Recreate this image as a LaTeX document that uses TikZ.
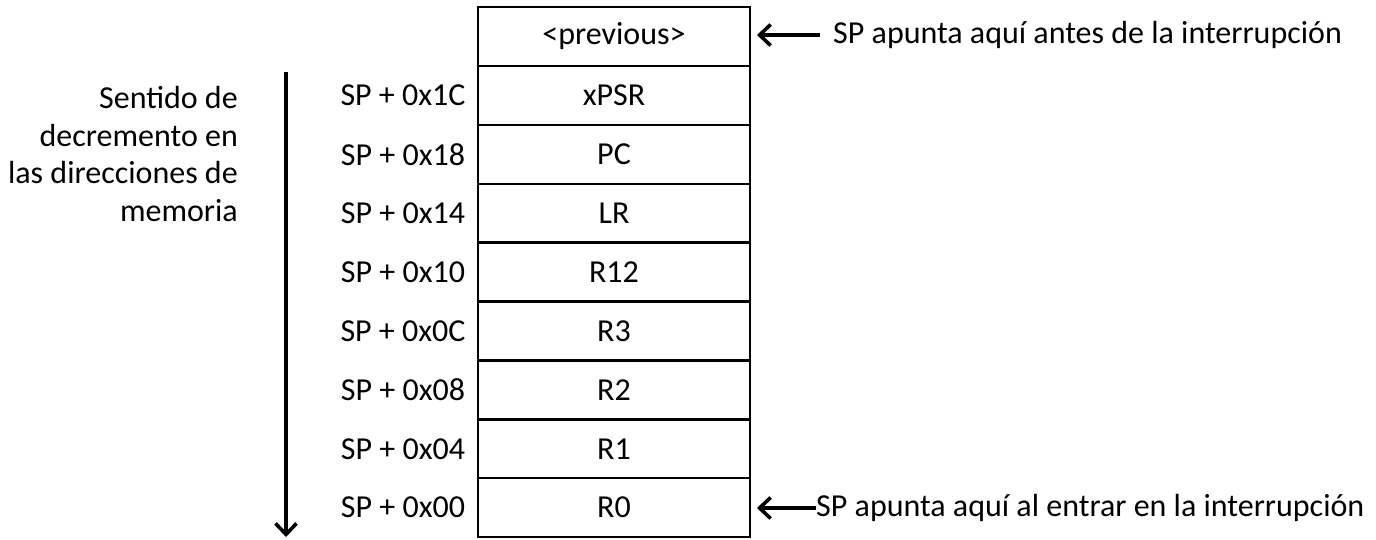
\documentclass[tikz,border=0pt]{standalone}
\usepackage{fontspec}
\setmainfont{Carlito}
\usetikzlibrary{arrows.meta}
\begin{document}
\begin{tikzpicture}[x=1pt,y=-1pt,
  txt/.style={font=\fontsize{32}{37.5}\selectfont},
  cell/.style={txt,draw,line width=2.4pt,minimum width=272pt,minimum height=58.9pt,inner sep=0pt},
  off/.style={txt,inner sep=0pt},
  note/.style={txt,inner sep=0pt,anchor=west},
  ptr/.style={-{Straight Barb[length=11pt,width=21pt,line width=3.6pt]},line width=4pt}]
\useasboundingbox (0,0) rectangle (1376,539);
% stack cells, top to bottom
\foreach \t [count=\i from 0] in {{<previous>},xPSR,PC,LR,R12,R3,R2,R1,R0}{
  \node[cell] (c\i) at (614,{36.45+58.9*\i}) {\t};
}
% offsets from the stack pointer
\foreach \t [count=\i from 1] in {1C,18,14,10,0C,08,04,00}{
  \node[off] (o\i) at (403,{36.45+58.9*\i}) {SP + 0x\t};
}
% pointer annotations
\node[note] (tp) at (833,35) {SP apunta aquí antes de la interrupción};
\node[note] (bp) at (816,508) {SP apunta aquí al entrar en la interrupción};
\coordinate (tpt) at (820,35);
\coordinate (tph) at (757,35);
\coordinate (bph) at (757,508);
\draw[ptr] (tpt) -- (tph);
\draw[ptr] (bp.west) -- (bph);
% direction of decreasing addresses
\node[txt,align=right,anchor=east,inner sep=0pt] (dir) at (238,154)
  {Sentido de\\decremento en\\las direcciones de\\memoria};
\coordinate (d0) at (286,72);
\coordinate (d1) at (286,537);
\draw[ptr,line width=4.5pt] (d0) -- (d1);
\end{tikzpicture}
\end{document}
